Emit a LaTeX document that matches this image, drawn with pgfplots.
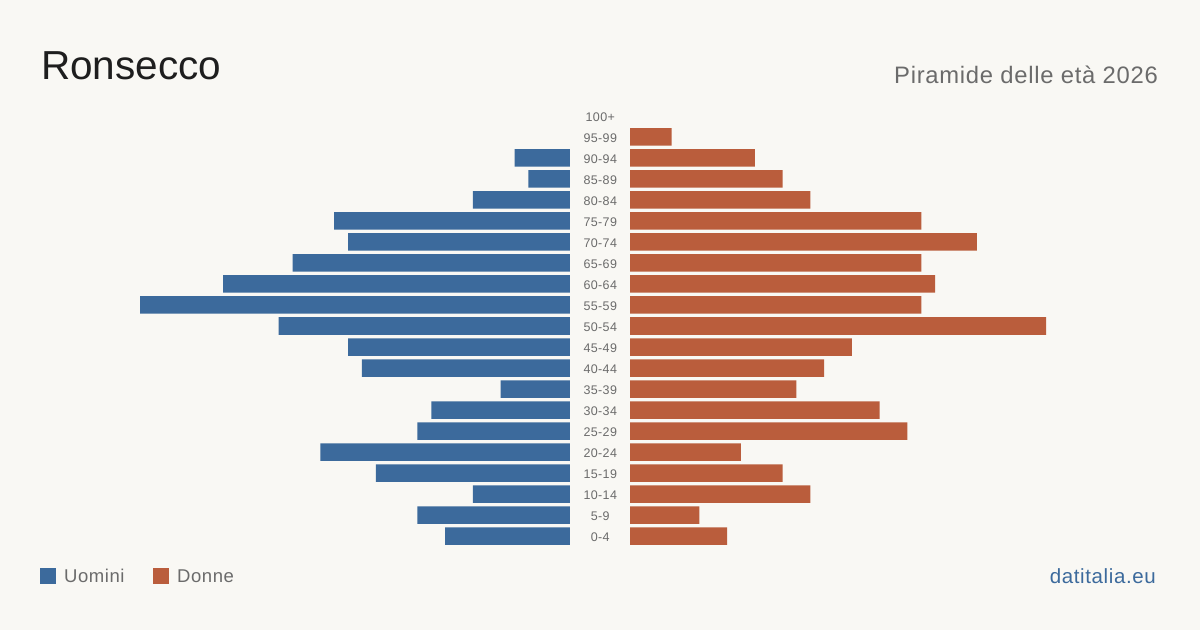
\documentclass[border=0pt]{standalone}
\usepackage{pgfplots}
\pgfplotsset{compat=1.18}
\usepackage{pgfplotstable}
\usepackage{fontspec}
\setmainfont{Liberation Sans}
\newfontfamily\widefont[LetterSpace=3]{Liberation Sans}
\definecolor{bg}{HTML}{F9F8F4}
\definecolor{men}{HTML}{3C6A9C}
\definecolor{women}{HTML}{BA5D3C}
\definecolor{txt}{HTML}{1E1E1E}
\definecolor{gry}{HTML}{6B6B6B}
\pgfplotstableread{
idx men
0 9
1 11
2 7
3 14
4 18
5 11
6 10
7 5
8 15
9 16
10 21
11 31
12 25
13 20
14 16
15 17
16 7
17 3
18 4
}\mentab
\pgfplotstableread{
idx women
0 7
1 5
2 13
3 11
4 8
5 20
6 18
7 12
8 14
9 16
10 30
11 21
12 22
13 21
14 25
15 21
16 13
17 11
18 9
19 3
}\womentab
\begin{document}
\begin{tikzpicture}[x=1pt,y=1pt]
\fill[bg] (0,0) rectangle (1200,630);
\pgfplotsset{
  pyr/.style={
    scale only axis,
    width=443.84pt, height=441pt,
    xmin=0, xmax=32, ymin=-0.5, ymax=20.5,
    axis line style={draw=none},
    tick style={draw=none},
    xtick=\empty,
    xbar, bar width=17.5pt,
    clip=false,
  }
}
\begin{axis}[pyr,
  at={(570pt,83.5pt)}, anchor=south east,
  x dir=reverse,
  ytick={0,...,20},
  yticklabels={0-4,5-9,10-14,15-19,20-24,25-29,30-34,35-39,40-44,45-49,50-54,55-59,60-64,65-69,70-74,75-79,80-84,85-89,90-94,95-99,100+},
  yticklabel pos=right,
  yticklabel style={anchor=center, xshift=26pt, yshift=-0.8pt, font=\widefont\fontsize{12.5}{14}\selectfont, text=gry},
]
\addplot[fill=men, draw=none] table[x=men, y=idx] {\mentab};
\end{axis}
\begin{axis}[pyr,
  at={(630pt,83.5pt)}, anchor=south west,
  ytick=\empty,
]
\addplot[fill=women, draw=none] table[x=women, y=idx] {\womentab};
\end{axis}
% titles
\node[anchor=base west, inner sep=0, text=txt, font=\fontsize{40.5}{48}\selectfont] at (41,550) {Ronsecco};
\node[anchor=base east, inner sep=0, text=gry, font=\widefont\fontsize{23.8}{28}\selectfont] at (1158,546) {Piramide delle età 2026};
% legend
\fill[men] (40,46) rectangle (56,62);
\node[anchor=base west, inner sep=0, text=gry, font=\widefont\fontsize{18.5}{22}\selectfont] at (64,48) {Uomini};
\fill[women] (153,46) rectangle (169,62);
\node[anchor=base west, inner sep=0, text=gry, font=\widefont\fontsize{18.5}{22}\selectfont] at (177,48) {Donne};
\node[anchor=base east, inner sep=0, text=men, font=\widefont\fontsize{20.5}{24}\selectfont] at (1156,47) {datitalia.eu};
\end{tikzpicture}
\end{document}
